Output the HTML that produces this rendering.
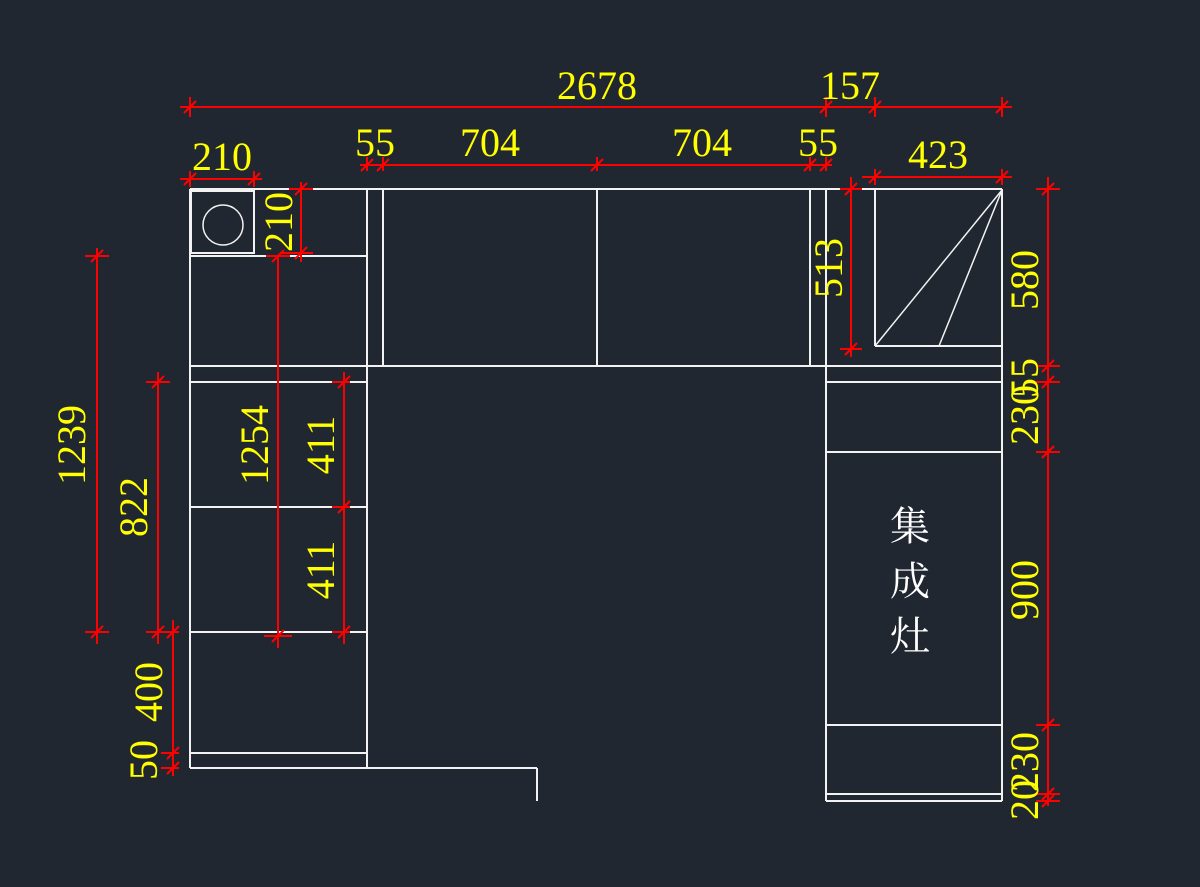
<!DOCTYPE html>
<html><head><meta charset="utf-8"><style>
html,body{margin:0;padding:0;background:#212730;}
svg{display:block}
.w{stroke:#f2f2f2;stroke-width:2;fill:none}
.r{stroke:#ff0000;stroke-width:2;fill:none}
.t{fill:#ffff00;font-family:"Liberation Serif",serif;font-size:40px;text-anchor:middle}
.c{fill:#ffffff;font-family:"Liberation Serif","Noto Serif CJK SC",serif;font-size:40px;text-anchor:middle}
</style></head><body>
<svg width="1200" height="887" viewBox="0 0 1200 887" xmlns="http://www.w3.org/2000/svg">
<rect width="1200" height="887" fill="#212730"/>
<g class="w">
<!-- outer -->
<line x1="190" y1="189" x2="1002" y2="189"/>
<line x1="190" y1="189" x2="190" y2="768"/>
<line x1="190" y1="768" x2="537" y2="768"/>
<line x1="537" y1="768" x2="537" y2="801"/>
<line x1="367" y1="189" x2="367" y2="768"/>
<line x1="383" y1="189" x2="383" y2="366"/>
<line x1="597" y1="189" x2="597" y2="366"/>
<line x1="810" y1="189" x2="810" y2="366"/>
<line x1="826" y1="189" x2="826" y2="801"/>
<line x1="1002" y1="189" x2="1002" y2="801"/>
<line x1="190" y1="366" x2="1002" y2="366"/>
<line x1="190" y1="382" x2="367" y2="382"/>
<line x1="826" y1="382" x2="1002" y2="382"/>
<line x1="190" y1="256" x2="367" y2="256"/>
<line x1="190" y1="507" x2="367" y2="507"/>
<line x1="190" y1="632" x2="367" y2="632"/>
<line x1="190" y1="753" x2="367" y2="753"/>
<line x1="826" y1="452" x2="1002" y2="452"/>
<line x1="826" y1="725" x2="1002" y2="725"/>
<line x1="826" y1="794" x2="1002" y2="794"/>
<line x1="826" y1="801" x2="1002" y2="801"/>
<!-- sink -->
<rect x="191" y="191" width="63" height="62"/>
<circle cx="223" cy="225" r="20" stroke-width="1.5"/>
<!-- corner -->
<line x1="875" y1="189" x2="875" y2="346"/>
<line x1="875" y1="346" x2="1002" y2="346"/>
<line x1="1002" y1="190" x2="875" y2="346" stroke-width="1.5"/>
<line x1="1002" y1="190" x2="939" y2="346" stroke-width="1.5"/>
</g>
<g class="r">
<!-- horizontal dims -->
<line x1="180" y1="107" x2="1012" y2="107"/>
<line x1="360" y1="165" x2="832" y2="165"/>
<line x1="180" y1="179" x2="262" y2="179"/>
<line x1="862" y1="177" x2="1012" y2="177"/>
<!-- vertical dims -->
<line x1="301" y1="182" x2="301" y2="262"/>
<line x1="851" y1="177" x2="851" y2="357"/>
<line x1="1048" y1="177" x2="1048" y2="806"/>
<line x1="97" y1="248" x2="97" y2="644"/>
<line x1="158" y1="372" x2="158" y2="644"/>
<line x1="173" y1="620" x2="173" y2="776"/>
<line x1="278" y1="256" x2="278" y2="648"/>
<line x1="344" y1="372" x2="344" y2="644"/>
</g>
<g class="r" id="ticks">
<!-- H ticks -->
<path d="M184 113 L196 101 M190 97 L190 117
M820 113 L832 101 M826 97 L826 117
M869 113 L881 101 M875 97 L875 117
M996 113 L1008 101 M1002 97 L1002 117
M361 171 L373 159 M367 157 L367 171
M377 171 L389 159 M383 157 L383 171
M591 171 L603 159 M597 157 L597 171
M804 171 L816 159 M810 157 L810 171
M820 171 L832 159 M826 157 L826 171
M184 185 L196 173 M190 171 L190 187
M248 185 L260 173 M254 171 L254 187
M869 183 L881 171 M875 169 L875 185
M996 183 L1008 171 M1002 169 L1002 185"/>
<!-- V ticks -->
<path d="M295 195 L307 183 M289 189 L313 189
M295 259 L307 247 M280 253 L313 253
M845 195 L857 183 M840 189 L862 189
M845 355 L857 343 M840 349 L862 349
M1042 195 L1054 183 M1036 189 L1060 189
M1042 372 L1054 360 M1036 366 L1060 366
M1042 388 L1054 376 M1036 382 L1060 382
M1042 458 L1054 446 M1036 452 L1060 452
M1042 731 L1054 719 M1036 725 L1060 725
M1042 800 L1054 788 M1036 794 L1060 794
M1042 807 L1054 795 M1036 801 L1060 801
M91 262 L103 250 M85 256 L109 256
M91 638 L103 626 M85 632 L109 632
M152 388 L164 376 M146 382 L170 382
M152 638 L164 626 M146 632 L170 632
M167 638 L179 626 M161 632 L179 632
M167 759 L179 747 M161 753 L179 753
M167 774 L179 762 M161 768 L179 768
M272 262 L284 250 M266 256 L290 256
M272 642 L284 630 M264 636 L292 636
M338 388 L350 376 M332 382 L350 382
M338 513 L350 501 M332 507 L350 507
M338 638 L350 626 M332 632 L350 632"/>
</g>
<g class="t">
<text x="597" y="99">2678</text>
<text x="850" y="99">157</text>
<text x="375" y="156">55</text>
<text x="490" y="156">704</text>
<text x="702" y="156">704</text>
<text x="818" y="156">55</text>
<text x="222" y="170">210</text>
<text x="938" y="168">423</text>
<text transform="translate(292,222) rotate(-90)">210</text>
<text transform="translate(842,268) rotate(-90)">513</text>
<text transform="translate(1038,280) rotate(-90)">580</text>
<text transform="translate(1038,378) rotate(-90)">55</text>
<text transform="translate(1038,415) rotate(-90)">230</text>
<text transform="translate(1038,590) rotate(-90)">900</text>
<text transform="translate(1038,762) rotate(-90)">230</text>
<text transform="translate(1038,800) rotate(-90)">20</text>
<text transform="translate(85,445) rotate(-90)">1239</text>
<text transform="translate(147,507) rotate(-90)">822</text>
<text transform="translate(162,692) rotate(-90)">400</text>
<text transform="translate(157,760) rotate(-90)">50</text>
<text transform="translate(268,445) rotate(-90)">1254</text>
<text transform="translate(334,445) rotate(-90)">411</text>
<text transform="translate(334,570) rotate(-90)">411</text>
</g>
<g class="c">
<text x="910" y="540">集</text>
<text x="910" y="595">成</text>
<text x="910" y="650">灶</text>
</g>
</svg>
</body></html>
